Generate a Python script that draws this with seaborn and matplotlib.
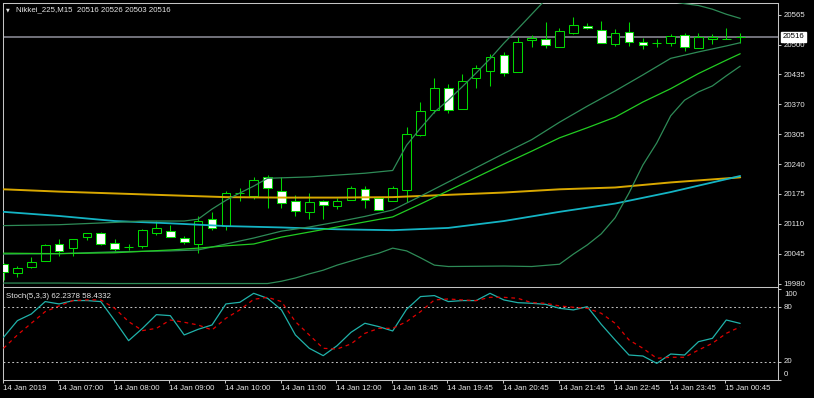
import matplotlib
matplotlib.use("Agg")
import matplotlib.pyplot as plt
import seaborn as sns
import numpy as np

# ---------------- data ----------------
bars = list(range(54))
opens = [20022, 20003, 20015, 20030, 20066, 20057, 20081, 20091, 20068, 20060,
         20062, 20091, 20094, 20080, 20065, 20120, 20106, 20176, 20171, 20211,
         20181, 20160, 20135, 20160, 20149, 20162, 20185, 20166, 20160, 20183,
         20303, 20358, 20406, 20360, 20427, 20443, 20477, 20441, 20510, 20512,
         20495, 20526, 20541, 20532, 20501, 20528, 20505, 20503, 20503, 20520,
         20492, 20513, 20513, 20516]
highs = [20025, 20019, 20037, 20065, 20076, 20077, 20091, 20092, 20076, 20067,
         20098, 20115, 20107, 20083, 20127, 20136, 20182, 20187, 20211, 20216,
         20212, 20173, 20176, 20162, 20167, 20193, 20192, 20167, 20192, 20320,
         20376, 20428, 20414, 20437, 20456, 20479, 20483, 20517, 20521, 20549,
         20537, 20559, 20546, 20551, 20534, 20549, 20514, 20512, 20523, 20526,
         20526, 20523, 20535, 20526]
lows = [19988, 19994, 20013, 20029, 20040, 20040, 20075, 20064, 20051, 20053,
        20057, 20086, 20081, 20066, 20046, 20096, 20096, 20160, 20163, 20145,
        20145, 20127, 20120, 20120, 20142, 20161, 20145, 20139, 20160, 20158,
        20302, 20350, 20350, 20360, 20405, 20410, 20432, 20441, 20495, 20492,
        20495, 20523, 20534, 20504, 20497, 20497, 20490, 20495, 20497, 20487,
        20492, 20501, 20512, 20503]
closes = [20005, 20014, 20027, 20063, 20051, 20076, 20089, 20065, 20055, 20060,
          20097, 20101, 20081, 20071, 20115, 20100, 20176, 20176, 20205, 20187,
          20155, 20138, 20158, 20151, 20160, 20187, 20162, 20140, 20187, 20305,
          20356, 20406, 20358, 20421, 20448, 20474, 20438, 20506, 20514, 20499,
          20530, 20543, 20535, 20504, 20526, 20506, 20498, 20503, 20519, 20495,
          20516, 20516, 20513, 20516]

# moving averages / Bollinger bands (bar index, value)
gold_idx = [0, 4, 8, 12, 16, 20, 24, 28, 32, 36, 40, 44, 48, 53]
gold_vals = [20185, 20180, 20176, 20172, 20168, 20167, 20167, 20168, 20173,
             20178, 20185, 20189, 20200, 20211]
cyan_idx = [0, 4, 8, 12, 16, 20, 24, 28, 32, 36, 40, 44, 48, 53]
cyan_vals = [20136, 20127, 20116, 20111, 20105, 20102, 20098, 20096, 20101,
             20116, 20136, 20154, 20179, 20214]
bbu_idx = [0, 4, 8, 10, 12, 13, 14, 15, 16, 17, 18, 19, 20, 22, 24, 26, 28, 29,
           30, 31, 32, 33, 34, 35, 36, 37, 38, 39, 40, 41, 42, 43, 44, 45, 46,
           47, 48, 49, 50, 51, 52, 53]
bbu_vals = [20106, 20108, 20113, 20116, 20116, 20116, 20120, 20142, 20161, 20177,
            20192, 20209, 20210, 20212, 20216, 20220, 20226, 20281, 20318, 20353,
            20379, 20408, 20438, 20469, 20503, 20534, 20566, 20598, 20610, 20616,
            20620, 20620, 20618, 20614, 20608, 20600, 20594, 20589, 20585, 20577,
            20566, 20557]
bbm_idx = [0, 4, 8, 12, 14, 16, 18, 20, 22, 24, 26, 28, 30, 32, 34, 36, 38, 40,
           42, 44, 46, 48, 50, 52, 53]
bbm_vals = [20044, 20045, 20049, 20051, 20053, 20066, 20079, 20094, 20103, 20114,
            20126, 20140, 20170, 20201, 20232, 20263, 20293, 20331, 20366, 20399,
            20434, 20470, 20484, 20497, 20504]
bbl_idx = [0, 4, 8, 12, 16, 19, 20, 21, 22, 23, 24, 25, 26, 27, 28, 29, 30, 31,
           32, 36, 38, 40, 41, 42, 43, 44, 45, 46, 47, 48, 49, 50, 51, 52, 53]
bbl_vals = [19981, 19981, 19980, 19980, 19980, 19980, 19985, 19992, 20001, 20009,
            20020, 20029, 20038, 20046, 20057, 20051, 20036, 20020, 20017, 20018,
            20017, 20022, 20044, 20064, 20088, 20123, 20177, 20238, 20286, 20345,
            20379, 20397, 20410, 20432, 20453]
lime_idx = [0, 4, 8, 12, 14, 16, 18, 20, 24, 28, 30, 32, 34, 36, 38, 40, 42, 44,
            46, 48, 50, 52, 53]
lime_vals = [20046, 20045, 20047, 20053, 20057, 20062, 20066, 20081, 20103, 20125,
             20153, 20182, 20211, 20240, 20268, 20297, 20319, 20342, 20375, 20404,
             20437, 20466, 20480]

# stochastic (5,3,3)
stoch_k = [46.9, 65.3, 72.6, 86.3, 83.7, 87.4, 87.4, 86.3, 65.3, 43.2,
           56.8, 71.9, 70.8, 49.5, 55.7, 60.5, 83.7, 85.5, 95.4, 89.9,
           77.1, 49.5, 34.8, 26.7, 37.7, 52.4, 62.4, 58.7, 53.9, 77.8,
           91.8, 92.9, 86.3, 87.4, 87.4, 95.4, 88.1, 85.1, 84.4, 83.3,
           78.9, 77.1, 80.7, 61.3, 44.0, 27.4, 26.3, 18.2, 28.5, 27.4,
           42.1, 45.8, 66.0, 62.2378]
stoch_d = [34.8, 49.5, 62.4, 75.2, 81.5, 87.4, 88.1, 88.1, 78.9, 64.2,
           54.3, 56.8, 66.0, 63.5, 60.5, 55.0, 67.9, 77.1, 88.8, 91.0,
           86.3, 64.2, 49.5, 34.8, 34.0, 39.6, 51.3, 56.8, 56.8, 64.2,
           75.2, 88.1, 89.2, 88.1, 87.4, 91.0, 91.0, 89.9, 85.1, 84.4,
           81.5, 80.0, 78.9, 73.4, 62.4, 44.0, 34.8, 23.8, 24.9, 24.9,
           32.9, 40.3, 51.3, 58.4332]

price_ticks = [20565, 20500, 20435, 20370, 20305, 20240, 20175, 20110, 20045, 19980]
time_tick_bars = [0, 4, 8, 12, 16, 20, 24, 28, 32, 36, 40, 44, 48, 52]
time_labels = ["14 Jan 2019", "14 Jan 07:00", "14 Jan 08:00", "14 Jan 09:00",
               "14 Jan 10:00", "14 Jan 11:00", "14 Jan 12:00", "14 Jan 18:45",
               "14 Jan 19:45", "14 Jan 20:45", "14 Jan 21:45", "14 Jan 22:45",
               "14 Jan 23:45", "15 Jan 00:45"]
last_price = 20516
title = "Nikkei_225,M15  20516 20526 20503 20516"
stoch_title = "Stoch(5,3,3) 62.2378 58.4332"

# ---------------- styling ----------------
sns.set_theme(style="dark")
plt.rcParams['font.family'] = ['Liberation Sans', 'DejaVu Sans']

W, H = 814, 398
FG = '#e6e6e6'
SPINE = '#c4c4c4'
CANDLE = '#00d800'
FS = 5.7

fig = plt.figure(figsize=(W / 100, H / 100), dpi=100, facecolor='black')


def box(l, t, r, b):
    return [l / W, 1 - b / H, (r - l) / W, (b - t) / H]


ax = fig.add_axes(box(2.5, 2.7, 778, 286))
ax2 = fig.add_axes(box(2.5, 286.7, 778, 380))
for a in (ax, ax2):
    a.set_facecolor('black')
    a.grid(False)
    for s in a.spines.values():
        s.set_color(SPINE)
        s.set_linewidth(0.75)
        s.set_visible(True)
ax.spines['bottom'].set_visible(False)

# ---------------- candles ----------------
x = np.array(bars)
o = np.array(opens)
c = np.array(closes)
bull = c >= o
ax.vlines(x, lows, highs, color=CANDLE, lw=0.75, zorder=2)
ax.bar(x, np.abs(c - o), bottom=np.minimum(o, c), width=0.62,
       color=np.where(bull, 'black', 'white'), edgecolor=CANDLE,
       linewidth=0.75, zorder=3)

# current price line
ax.axhline(last_price, color='#7a7a84', lw=1.3, zorder=1.5)

# ---------------- indicator lines ----------------
line_specs = [
    (gold_idx, gold_vals, '#d9a800', 1.4),
    (cyan_idx, cyan_vals, '#14b4c4', 1.3),
    (bbu_idx, bbu_vals, '#2e8b57', 0.9),
    (bbm_idx, bbm_vals, '#2e8b57', 0.9),
    (bbl_idx, bbl_vals, '#2e8b57', 0.9),
    (lime_idx, lime_vals, '#22cc22', 0.9),
]
for idx, vals, col, lw in line_specs:
    sns.lineplot(x=idx, y=vals, ax=ax, color=col, linewidth=lw, legend=False,
                 zorder=4)

ax.set_xlim(-0.072, 55.72)
ax.set_ylim(19974.6, 20591.1)
ax.set_xlabel('')
ax.set_ylabel('')
ax.tick_params(axis='x', bottom=False, labelbottom=False)
ax.yaxis.tick_right()
ax.set_yticks(price_ticks)
ax.set_yticklabels([str(p) for p in price_ticks])
ax.tick_params(axis='y', right=True, left=False, direction='out', length=2.2,
               width=0.75, color=SPINE, labelcolor=FG, labelsize=FS, pad=2.0)

# last price marker
fig.text(793.7 / W, 1 - 36.7 / H, str(last_price), ha='center', va='center',
         color='black', fontsize=FS, zorder=20,
         bbox=dict(boxstyle='square,pad=0.2', fc='white', ec='white'))

# titles
fig.text(7.5 / W, 1 - 10 / H, '\u25BC', ha='center', va='center', color=FG,
         fontsize=3.5, family=['DejaVu Sans'])
fig.text(16 / W, 1 - 10 / H, title, ha='left', va='center', color=FG,
         fontsize=FS)

# ---------------- stochastic ----------------
ax2.axhline(80, color='#bdbdbd', lw=0.75, ls=(0, (1.8, 2.4)), zorder=1)
ax2.axhline(20, color='#bdbdbd', lw=0.75, ls=(0, (1.8, 2.4)), zorder=1)
sns.lineplot(x=bars, y=stoch_k, ax=ax2, color='#20b2aa', linewidth=0.9,
             legend=False, zorder=3)
sns.lineplot(x=bars, y=stoch_d, ax=ax2, color='#e00000', linewidth=0.9,
             linestyle=(0, (3, 3)), legend=False, zorder=4)
ax2.set_xlim(-0.072, 55.72)
ax2.set_ylim(-0.15, 102.7)
ax2.set_xlabel('')
ax2.set_ylabel('')
ax2.yaxis.tick_right()
ax2.set_yticks([0, 20, 80, 100])
ax2.set_yticklabels([])
ax2.tick_params(axis='y', right=True, left=False, direction='out', length=2.2,
                width=0.75, color=SPINE)
for lab, yy in (("100", 294), ("80", 307.3), ("20", 361.7), ("0", 374)):
    fig.text(784 / W, 1 - yy / H, lab, ha='left', va='center', color=FG,
             fontsize=FS)
fig.text(6 / W, 1 - 296 / H, stoch_title, ha='left', va='center', color=FG,
         fontsize=FS)

ax2.set_xticks([b - 0.06 for b in time_tick_bars])
ax2.set_xticklabels(time_labels, ha='left')
ax2.tick_params(axis='x', bottom=True, direction='out', length=2.2, width=0.75,
                color=SPINE, labelcolor=FG, labelsize=FS, pad=1.5)

fig.savefig('out.png', dpi=100, facecolor='black')
